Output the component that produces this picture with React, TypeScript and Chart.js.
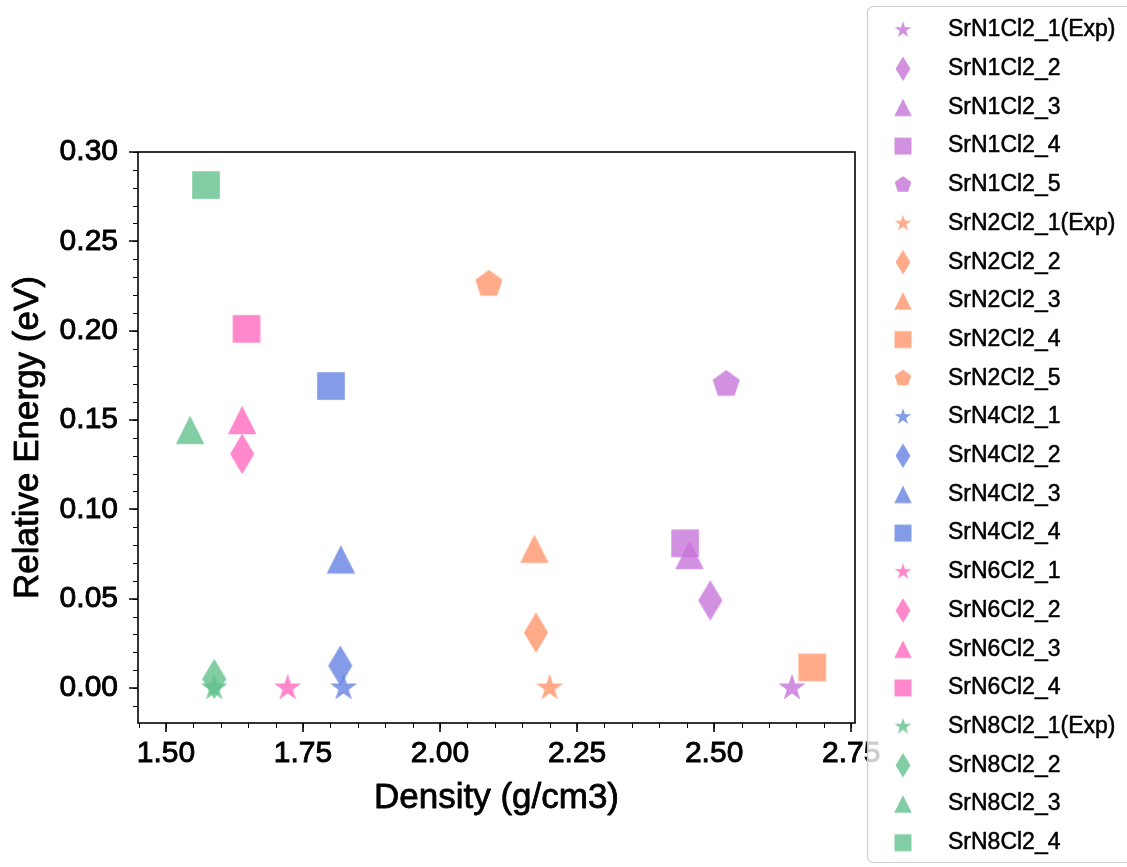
import React, { useEffect, useRef } from "react";
import { Chart, registerables } from "chart.js";

Chart.register(...registerables);

// ---------- data ----------
const seriesLabels = [
  "SrN1Cl2_1(Exp)", "SrN1Cl2_2", "SrN1Cl2_3", "SrN1Cl2_4", "SrN1Cl2_5",
  "SrN2Cl2_1(Exp)", "SrN2Cl2_2", "SrN2Cl2_3", "SrN2Cl2_4", "SrN2Cl2_5",
  "SrN4Cl2_1", "SrN4Cl2_2", "SrN4Cl2_3", "SrN4Cl2_4",
  "SrN6Cl2_1", "SrN6Cl2_2", "SrN6Cl2_3", "SrN6Cl2_4",
  "SrN8Cl2_1(Exp)", "SrN8Cl2_2", "SrN8Cl2_3", "SrN8Cl2_4",
];

const densityValues = [
  2.642, 2.493, 2.455, 2.447, 2.522,
  2.200, 2.175, 2.172, 2.679, 2.089,
  1.824, 1.818, 1.819, 1.801,
  1.722, 1.639, 1.639, 1.647,
  1.588, 1.588, 1.544, 1.573,
];

const energyValues = [
  0.000, 0.049, 0.0745, 0.081, 0.170,
  0.000, 0.031, 0.078, 0.0115, 0.226,
  0.000, 0.0125, 0.072, 0.169,
  0.000, 0.131, 0.150, 0.201,
  0.000, 0.005, 0.1445, 0.2815,
];

const xTickValues = [1.5, 1.75, 2.0, 2.25, 2.5, 2.75];
const yTickValues = [0.0, 0.05, 0.1, 0.15, 0.2, 0.25, 0.3];
const xLimits = [1.449, 2.757];
const yLimits = [-0.0196, 0.3];
const xMinorStep = 0.05;
const yMinorStep = 0.01;
const xTitle = "Density (g/cm3)";
const yTitle = "Relative Energy (eV)";

// ---------- styles ----------
const familyColors = [
  "rgba(199,116,216,0.8)",
  "rgba(255,150,109,0.8)",
  "rgba(101,130,226,0.8)",
  "rgba(255,106,191,0.8)",
  "rgba(99,192,140,0.8)",
];
const seriesFamily = [0, 0, 0, 0, 0, 1, 1, 1, 1, 1, 2, 2, 2, 2, 3, 3, 3, 3, 4, 4, 4, 4];
const seriesShape = [
  "star", "diamond", "triangle", "square", "pentagon",
  "star", "diamond", "triangle", "square", "pentagon",
  "star", "diamond", "triangle", "square",
  "star", "diamond", "triangle", "square",
  "star", "diamond", "triangle", "square",
];

const FONT = "'Liberation Sans', Arial, 'DejaVu Sans', sans-serif";

function makeMarker(shape: string, color: string, s: number): HTMLCanvasElement {
  const size = Math.ceil(s * 1.6 / 2) * 2 + 4;
  const c = document.createElement("canvas");
  c.width = size;
  c.height = size;
  const ctx = c.getContext("2d")!;
  ctx.translate(size / 2, size / 2);
  ctx.fillStyle = color;
  ctx.beginPath();
  const r = s / 2;
  if (shape === "square") {
    const h = r * 0.97;
    ctx.rect(-h, -h, 2 * h, 2 * h);
  } else if (shape === "triangle") {
    ctx.moveTo(0, -r);
    ctx.lineTo(-r, r);
    ctx.lineTo(r, r);
    ctx.closePath();
  } else if (shape === "diamond") {
    const hh = s * Math.SQRT1_2;
    const hw = 0.6 * hh;
    ctx.moveTo(0, -hh);
    ctx.lineTo(hw, 0);
    ctx.lineTo(0, hh);
    ctx.lineTo(-hw, 0);
    ctx.closePath();
  } else if (shape === "star") {
    for (let i = 0; i < 10; i++) {
      const a = (i * Math.PI) / 5;
      const rad = i % 2 === 0 ? r : r * 0.381966;
      const x = rad * Math.sin(a);
      const y = -rad * Math.cos(a);
      if (i === 0) ctx.moveTo(x, y);
      else ctx.lineTo(x, y);
    }
    ctx.closePath();
  } else if (shape === "pentagon") {
    for (let i = 0; i < 5; i++) {
      const a = (i * 2 * Math.PI) / 5;
      const x = r * Math.sin(a);
      const y = -r * Math.cos(a);
      if (i === 0) ctx.moveTo(x, y);
      else ctx.lineTo(x, y);
    }
    ctx.closePath();
  }
  ctx.fill();
  return c;
}

function boldText(ctx: CanvasRenderingContext2D, text: string, x: number, y: number, sw: number) {
  ctx.fillText(text, x, y);
  ctx.lineWidth = sw;
  ctx.strokeStyle = "#000";
  ctx.lineJoin = "round";
  ctx.strokeText(text, x, y);
}

export default function App() {
  const canvasRef = useRef<HTMLCanvasElement | null>(null);

  useEffect(() => {
    const canvas = canvasRef.current;
    if (!canvas) return;

    const plotMarkers = seriesLabels.map((_, i) =>
      makeMarker(seriesShape[i], familyColors[seriesFamily[i]], 28.5)
    );
    const legendMarkers = seriesLabels.map((_, i) =>
      makeMarker(seriesShape[i], familyColors[seriesFamily[i]], 17.5)
    );

    const datasets = seriesLabels.map((label, i) => ({
      label,
      data: [{ x: densityValues[i], y: energyValues[i] }],
      pointStyle: plotMarkers[i] as any,
      pointRadius: 14,
      pointHoverRadius: 14,
      showLine: false,
      order: -i,
      backgroundColor: familyColors[seriesFamily[i]],
      borderColor: familyColors[seriesFamily[i]],
    }));

    const frameTicksPlugin = {
      id: "frameTicks",
      afterDraw(chart: any) {
        const { ctx, chartArea } = chart;
        const xs = chart.scales.x;
        const ys = chart.scales.y;
        const { left, right, top, bottom } = chartArea;
        ctx.save();
        ctx.strokeStyle = "#000";
        // minor ticks
        ctx.lineWidth = 1;
        ctx.beginPath();
        for (let k = Math.ceil(xLimits[0] / xMinorStep - 1e-6); k * xMinorStep <= xLimits[1] + 1e-9; k++) {
          const v = k * xMinorStep;
          const px = Math.round(xs.getPixelForValue(v)) + 0.5;
          ctx.moveTo(px, bottom);
          ctx.lineTo(px, bottom + 5);
        }
        for (let k = Math.ceil(yLimits[0] / yMinorStep - 1e-6); k * yMinorStep <= yLimits[1] + 1e-9; k++) {
          const v = k * yMinorStep;
          const py = Math.round(ys.getPixelForValue(v)) + 0.5;
          ctx.moveTo(left, py);
          ctx.lineTo(left - 5, py);
        }
        ctx.stroke();
        // major ticks
        ctx.lineWidth = 1.6;
        ctx.beginPath();
        xTickValues.forEach((v) => {
          const px = Math.round(xs.getPixelForValue(v));
          ctx.moveTo(px, bottom);
          ctx.lineTo(px, bottom + 9);
        });
        yTickValues.forEach((v) => {
          const py = Math.round(ys.getPixelForValue(v));
          ctx.moveTo(left, py);
          ctx.lineTo(left - 9, py);
        });
        ctx.stroke();
        // frame
        ctx.lineWidth = 1.6;
        ctx.strokeRect(left, top, right - left, bottom - top);
        // axis titles
        ctx.fillStyle = "#000";
        ctx.font = `35px ${FONT}`;
        ctx.textAlign = "center";
        ctx.textBaseline = "middle";
        boldText(ctx, xTitle, (left + right) / 2, 798, 0.8);
        ctx.save();
        ctx.translate(28, (top + bottom) / 2);
        ctx.rotate(-Math.PI / 2);
        boldText(ctx, yTitle, 0, 0, 0.8);
        ctx.restore();
        ctx.restore();
      },
    };

    const legendPlugin = {
      id: "sideLegend",
      afterDraw(chart: any) {
        const ctx = chart.ctx;
        ctx.save();
        const bx = 867.5, by = 6.5, bw = 300, bh = 856, rr = 6;
        ctx.beginPath();
        ctx.moveTo(bx + rr, by);
        ctx.lineTo(bx + bw - rr, by);
        ctx.arcTo(bx + bw, by, bx + bw, by + rr, rr);
        ctx.lineTo(bx + bw, by + bh - rr);
        ctx.arcTo(bx + bw, by + bh, bx + bw - rr, by + bh, rr);
        ctx.lineTo(bx + rr, by + bh);
        ctx.arcTo(bx, by + bh, bx, by + bh - rr, rr);
        ctx.lineTo(bx, by + rr);
        ctx.arcTo(bx, by, bx + rr, by, rr);
        ctx.closePath();
        ctx.fillStyle = "rgba(255,255,255,0.8)";
        ctx.fill();
        ctx.strokeStyle = "rgba(204,204,204,0.9)";
        ctx.lineWidth = 1.2;
        ctx.stroke();
        ctx.font = `23px ${FONT}`;
        ctx.fillStyle = "#000";
        ctx.textBaseline = "middle";
        ctx.textAlign = "left";
        chart.data.datasets.forEach((ds: any, i: number) => {
          const y = 30 + i * 38.7;
          const m = legendMarkers[i];
          ctx.drawImage(m, 903 - m.width / 2, y - m.height / 2);
          boldText(ctx, ds.label, 948, y, 0.5);
        });
        ctx.restore();
      },
    };

    const chart = new Chart(canvas, {
      type: "scatter",
      data: { datasets: datasets as any },
      options: {
        animation: false,
        responsive: false,
        devicePixelRatio: 1,
        layout: { padding: { left: 0, top: 152, right: 272, bottom: 0 } },
        plugins: { legend: { display: false }, tooltip: { enabled: false } },
        scales: {
          x: {
            type: "linear",
            min: xLimits[0],
            max: xLimits[1],
            afterFit: (s: any) => { s.height = 144; },
            afterBuildTicks: (s: any) => { s.ticks = xTickValues.map((v) => ({ value: v })); },
            grid: { display: true, drawOnChartArea: false, drawTicks: true, tickLength: 9, color: "rgba(0,0,0,0)" },
            border: { display: false },
            ticks: {
              autoSkip: false,
              maxRotation: 0,
              padding: 4,
              color: "#000",
              textStrokeColor: "#000",
              textStrokeWidth: 0.9,
              font: { family: FONT, size: 30 },
              callback: (v: any) => Number(v).toFixed(2),
            } as any,
            title: { display: false },
          },
          y: {
            type: "linear",
            min: yLimits[0],
            max: yLimits[1],
            afterFit: (s: any) => { s.width = 138; },
            afterBuildTicks: (s: any) => { s.ticks = yTickValues.map((v) => ({ value: v })); },
            grid: { display: true, drawOnChartArea: false, drawTicks: true, tickLength: 9, color: "rgba(0,0,0,0)" },
            border: { display: false },
            ticks: {
              autoSkip: false,
              padding: 11,
              color: "#000",
              textStrokeColor: "#000",
              textStrokeWidth: 0.9,
              font: { family: FONT, size: 30 },
              callback: (v: any) => Number(v).toFixed(2),
            } as any,
            title: { display: false },
          },
        },
      },
      plugins: [frameTicksPlugin, legendPlugin],
    });

    return () => chart.destroy();
  }, []);

  return (
    <div style={{ position: "fixed", left: 0, top: 0, width: 1127, height: 867, background: "#fff" }}>
      <canvas ref={canvasRef} width={1127} height={867} style={{ display: "block", width: 1127, height: 867 }} />
    </div>
  );
}
